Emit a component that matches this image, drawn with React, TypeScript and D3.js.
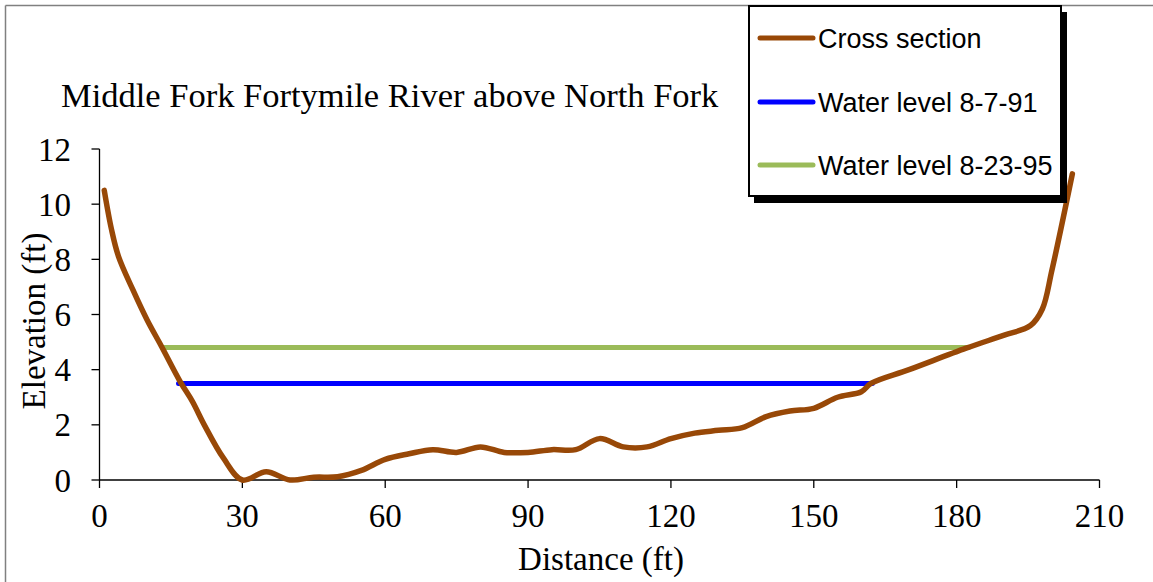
import React from "react";
import * as d3 from "d3";

const distance = [1, 2.5, 4, 7, 10, 13, 17, 19.5, 22, 26, 30, 35, 40, 45, 50, 55, 60, 65, 70, 75, 80, 85, 90, 95, 100, 105, 110, 115, 120, 125, 130, 135, 140, 145, 150, 155, 160, 162, 170, 182, 190, 195.5, 198, 200, 204.3];
const elevation = [10.5, 9.1, 8.1, 6.9, 5.8, 4.85, 3.55, 2.85, 2.0, 0.8, 0, 0.3, 0, 0.1, 0.12, 0.35, 0.75, 0.95, 1.1, 1.0, 1.2, 1.0, 1.0, 1.1, 1.1, 1.5, 1.2, 1.2, 1.5, 1.7, 1.8, 1.9, 2.3, 2.5, 2.6, 3.0, 3.2, 3.5, 4.0, 4.78, 5.25, 5.6, 6.2, 7.6, 11.1];

const water1991X = [16.6, 162.3];
const water1991Y = [3.5, 3.5];
const water1995X = [13.4, 182.5];
const water1995Y = [4.8, 4.8];

const xTicks = [0, 30, 60, 90, 120, 150, 180, 210];
const yTicks = [0, 2, 4, 6, 8, 10, 12];

const legendLabels = ["Cross section", "Water level 8-7-91", "Water level 8-23-95"];
const colors = ["#984807", "#0000FF", "#9BBB59"];

const title = "Middle Fork Fortymile River above North Fork";

export default function App() {
  const W = 1153, H = 582;
  const x = d3.scaleLinear().domain([0, 210]).range([99.5, 1099.5]);
  const y = d3.scaleLinear().domain([0, 12]).range([480, 149]);

  const line = d3
    .line<[number, number]>()
    .x((d) => x(d[0]))
    .y((d) => y(d[1]))
    .curve(d3.curveCatmullRom.alpha(0.5));
  const straight = d3
    .line<[number, number]>()
    .x((d) => x(d[0]))
    .y((d) => y(d[1]));

  const cross = distance.map((d, i) => [d, elevation[i]] as [number, number]);
  const w91 = water1991X.map((d, i) => [d, water1991Y[i]] as [number, number]);
  const w95 = water1995X.map((d, i) => [d, water1995Y[i]] as [number, number]);

  const serif = "'Liberation Serif', 'Times New Roman', serif";
  const sans = "'Liberation Sans', Arial, sans-serif";

  const legendYs = [38, 102, 165];

  return (
    <svg
      width={W}
      height={H}
      style={{ position: "fixed", left: 0, top: 0, background: "#fff" }}
    >
      <rect x={0} y={0} width={W} height={H} fill="#fff" />
      {/* outer chart border */}
      <line x1={5.5} y1={5.5} x2={W} y2={5.5} stroke="#808080" strokeWidth={1.5} />
      <line x1={5.5} y1={5.5} x2={5.5} y2={H} stroke="#808080" strokeWidth={1.5} />

      {/* title */}
      <text x={61} y={107} fontFamily={serif} fontSize={34.5} fill="#000">
        {title}
      </text>

      {/* axes */}
      <line x1={x(0)} y1={y(0)} x2={x(210)} y2={y(0)} stroke="#000" strokeWidth={1.3} />
      <line x1={x(0)} y1={y(0)} x2={x(0)} y2={y(12)} stroke="#000" strokeWidth={1.3} />
      {yTicks.map((t) => (
        <g key={"y" + t}>
          <line x1={x(0) - 8} x2={x(0)} y1={y(t)} y2={y(t)} stroke="#000" strokeWidth={1.3} />
          <text
            x={71}
            y={y(t)}
            dy="0.35em"
            textAnchor="end"
            fontFamily={serif}
            fontSize={33}
          >
            {t}
          </text>
        </g>
      ))}
      {xTicks.map((t) => (
        <g key={"x" + t}>
          <line x1={x(t)} x2={x(t)} y1={y(0)} y2={y(0) + 8} stroke="#000" strokeWidth={1.3} />
          <text x={x(t)} y={527} textAnchor="middle" fontFamily={serif} fontSize={33}>
            {t}
          </text>
        </g>
      ))}

      <text x={601} y={570} textAnchor="middle" fontFamily={serif} fontSize={33}>
        Distance (ft)
      </text>
      <text
        transform="translate(45,321) rotate(-90)"
        textAnchor="middle"
        fontFamily={serif}
        fontSize={33}
      >
        Elevation (ft)
      </text>

      {/* series */}
      <path d={straight(w95) || ""} fill="none" stroke={colors[2]} strokeWidth={5} strokeLinecap="round" />
      <path d={straight(w91) || ""} fill="none" stroke={colors[1]} strokeWidth={5} strokeLinecap="round" />
      <path d={line(cross) || ""} fill="none" stroke={colors[0]} strokeWidth={5.5} strokeLinecap="round" strokeLinejoin="round" />

      {/* legend */}
      <rect x={754} y={12} width={313} height={191} fill="#000" />
      <rect x={749} y={6} width={312} height={190} fill="#fff" stroke="#000" strokeWidth={2} />
      {legendLabels.map((l, i) => (
        <g key={l}>
          <line x1={760} x2={813} y1={legendYs[i]} y2={legendYs[i]} stroke={colors[i]} strokeWidth={5} strokeLinecap="round" />
          <text x={818} y={legendYs[i] + 9.5} fontFamily={sans} fontSize={27}>
            {l}
          </text>
        </g>
      ))}
    </svg>
  );
}
